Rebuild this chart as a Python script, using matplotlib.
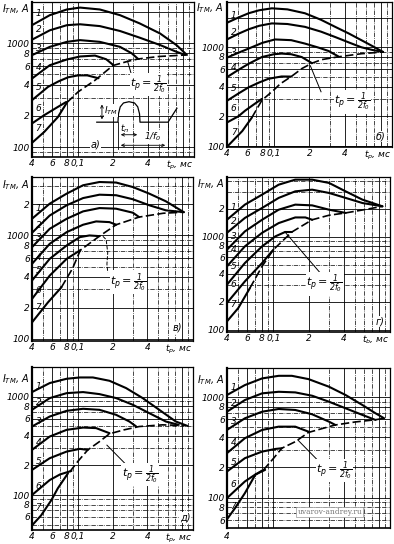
import numpy as np
import matplotlib
matplotlib.use("Agg")
import matplotlib.pyplot as plt

plt.rcParams['font.family'] = ['DejaVu Sans']
plt.rcParams['font.style'] = 'italic'
plt.rcParams['mathtext.fontset'] = 'dejavusans'
plt.rcParams['mathtext.default'] = 'it'

# ---------------- data (t_p in ms, I_TM in A) -------------
# panel a)
a_x = [[0.04, 0.057, 0.08, 0.104, 0.154, 0.23, 0.34, 0.51, 0.71, 0.87],
       [0.04, 0.057, 0.08, 0.104, 0.154, 0.23, 0.34, 0.51, 0.70, 0.84],
       [0.04, 0.057, 0.08, 0.104, 0.154, 0.23, 0.29, 0.33],
       [0.04, 0.057, 0.08, 0.104, 0.14, 0.175, 0.2],
       [0.04, 0.055, 0.068, 0.082, 0.1, 0.12, 0.15],
       [0.04, 0.051, 0.067, 0.079],
       [0.04, 0.051, 0.067, 0.08]]
a_y = [[1490, 1860, 2110, 2200, 2110, 1860, 1550, 1240, 955, 770],
       [1080, 1330, 1490, 1520, 1460, 1310, 1130, 960, 830, 770],
       [767, 922, 1030, 1070, 1030, 922, 800, 705],
       [457, 614, 697, 745, 760, 700, 620],
       [283, 380, 430, 470, 490, 490, 460],
       [169, 203, 244, 272],
       [110, 140, 195, 268]]
a_loc_x = [0.08, 0.1, 0.14, 0.2, 0.27, 0.33, 0.5, 0.85]
a_loc_y = [268, 340, 440, 610, 670, 705, 745, 770]
a_lab_y = [1943, 1363, 895, 588, 377, 237, 152]

# panel б)
b_x = [[0.04, 0.05, 0.061, 0.075, 0.096, 0.13, 0.183, 0.25, 0.33, 0.43, 0.55, 0.68, 0.84],
       [0.04, 0.05, 0.061, 0.075, 0.096, 0.13, 0.183, 0.25, 0.33, 0.43, 0.55, 0.68, 0.84],
       [0.04, 0.05, 0.061, 0.08, 0.102, 0.14, 0.183, 0.24, 0.29, 0.35],
       [0.04, 0.05, 0.061, 0.079, 0.1, 0.116, 0.14, 0.172, 0.21],
       [0.04, 0.05, 0.061, 0.075, 0.09, 0.116, 0.14],
       [0.04, 0.05, 0.057, 0.068, 0.079],
       [0.04, 0.054, 0.065]]
b_y = [[1770, 2000, 2210, 2370, 2480, 2420, 2210, 1900, 1610, 1380, 1180, 1030, 896],
       [1200, 1370, 1520, 1650, 1745, 1720, 1610, 1440, 1270, 1120, 1000, 940, 896],
       [785, 880, 970, 1110, 1200, 1180, 1090, 990, 917, 810],
       [498, 590, 680, 796, 850, 863, 850, 796, 690],
       [287, 340, 393, 440, 480, 506, 505],
       [173, 200, 228, 265, 300],
       [98, 142, 194]]
b_loc_x = [0.065, 0.079, 0.1, 0.113, 0.14, 0.173, 0.21, 0.254, 0.35, 0.55, 0.84]
b_loc_y = [194, 290, 370, 426, 505, 610, 690, 750, 800, 860, 896]
b_lab_y = [2120, 1423, 889, 625, 381, 239, 136]

# panel в)
v_x = [[0.04, 0.057, 0.08, 0.111, 0.154, 0.215, 0.3, 0.416, 0.58, 0.83],
       [0.04, 0.057, 0.08, 0.111, 0.154, 0.215, 0.3, 0.416, 0.58, 0.83],
       [0.04, 0.057, 0.08, 0.111, 0.154, 0.215, 0.3, 0.34],
       [0.04, 0.057, 0.08, 0.111, 0.144, 0.188, 0.215],
       [0.04, 0.057, 0.08, 0.104, 0.126, 0.154],
       [0.04, 0.057, 0.08, 0.105],
       [0.04, 0.055, 0.072]]
v_y = [[1450, 2030, 2540, 3060, 3290, 3250, 2940, 2540, 2140, 1680],
       [1060, 1560, 1960, 2300, 2480, 2450, 2240, 1960, 1750, 1680],
       [770, 1160, 1450, 1710, 1840, 1815, 1660, 1506],
       [531, 830, 1077, 1270, 1367, 1346, 1270],
       [366, 594, 800, 963, 1000, 985],
       [243, 409, 594, 720],
       [144, 225, 315]]
v_loc_x = [0.072, 0.09, 0.105, 0.154, 0.215, 0.34, 0.55, 0.83]
v_loc_y = [315, 480, 720, 985, 1270, 1506, 1640, 1680]
v_lab_y = [1830, 1250, 956, 612, 458, 292, 200]

# panel г)
g_x = [[0.04, 0.057, 0.08, 0.111, 0.154, 0.215, 0.3, 0.416, 0.58, 0.86],
       [0.04, 0.057, 0.08, 0.111, 0.154, 0.215, 0.3, 0.416, 0.58, 0.86],
       [0.04, 0.057, 0.08, 0.111, 0.154, 0.215, 0.3, 0.416],
       [0.04, 0.057, 0.08, 0.111, 0.154, 0.188, 0.215],
       [0.04, 0.057, 0.08, 0.104, 0.126, 0.144],
       [0.04, 0.057, 0.08, 0.1],
       [0.04, 0.05, 0.063]]
g_y = [[1520, 2210, 2830, 3620, 4100, 4100, 3780, 3070, 2500, 2120],
       [1100, 1590, 2035, 2610, 3070, 3200, 2950, 2610, 2300, 2120],
       [725, 1140, 1520, 1950, 2210, 2170, 1950, 1800],
       [480, 787, 1100, 1400, 1610, 1610, 1520],
       [305, 521, 787, 1008, 1123, 1123],
       [194, 331, 521, 725],
       [123, 171, 281]]
g_loc_x = [0.063, 0.08, 0.1, 0.144, 0.215, 0.3, 0.416, 0.6, 0.86]
g_loc_y = [281, 480, 725, 1123, 1520, 1700, 1800, 1950, 2120]
g_lab_y = [2050, 1450, 1000, 725, 476, 305, 186]

# panel д)
d_x = [[0.04, 0.057, 0.08, 0.104, 0.135, 0.188, 0.262, 0.365, 0.508, 0.708, 0.89],
       [0.04, 0.057, 0.08, 0.111, 0.154, 0.215, 0.3, 0.416, 0.58, 0.75],
       [0.04, 0.057, 0.08, 0.111, 0.154, 0.215, 0.28, 0.32],
       [0.04, 0.057, 0.08, 0.111, 0.144, 0.188],
       [0.04, 0.057, 0.08, 0.104, 0.122],
       [0.04, 0.057, 0.07, 0.088],
       [0.04, 0.048, 0.059, 0.067, 0.082]]
d_y = [[1117, 1380, 1527, 1574, 1574, 1456, 1227, 970, 737, 560, 506],
       [737, 970, 1090, 1117, 1065, 970, 829, 682, 560, 518],
       [498, 630, 720, 755, 737, 655, 560, 500],
       [288, 394, 461, 486, 480, 426],
       [180, 237, 277, 295, 288],
       [100, 142, 162, 176],
       [49, 62, 89, 117, 166]]
d_loc_x = [0.085, 0.1, 0.122, 0.154, 0.188, 0.25, 0.34, 0.54, 0.86]
d_loc_y = [172, 220, 288, 350, 420, 460, 498, 518, 510]
d_lab_y = [1265, 868, 556, 339, 217, 121, 74]

# panel е)
e_x = [[0.04, 0.057, 0.08, 0.111, 0.144, 0.2, 0.3, 0.416, 0.58, 0.75, 0.89],
       [0.04, 0.057, 0.08, 0.111, 0.154, 0.215, 0.3, 0.416, 0.58, 0.75],
       [0.04, 0.057, 0.08, 0.111, 0.154, 0.215, 0.3, 0.34],
       [0.04, 0.057, 0.08, 0.111, 0.154, 0.2],
       [0.04, 0.057, 0.08, 0.104, 0.118],
       [0.04, 0.057, 0.07, 0.085],
       [0.04, 0.047, 0.057, 0.07, 0.08]]
e_y = [[1047, 1315, 1531, 1625, 1625, 1507, 1265, 1047, 833, 690, 615],
       [715, 934, 1088, 1128, 1112, 1030, 898, 773, 664, 592],
       [471, 615, 715, 761, 744, 674, 569, 528],
       [277, 390, 471, 508, 508, 453],
       [182, 247, 287, 305, 310],
       [99, 145, 170, 189],
       [61, 79, 111, 169, 186]]
e_loc_x = [0.082, 0.1, 0.118, 0.154, 0.2, 0.3, 0.34, 0.5, 0.75, 0.89]
e_loc_y = [188, 245, 310, 360, 445, 508, 528, 565, 595, 615]
e_lab_y = [1256, 872, 566, 350, 222, 134, 82]

# tick labels
x_ticks = [0.04, 0.06, 0.08, 0.1, 0.2, 0.4]
x_ticklabels = ['4', '6', '8', '0,1', '2', '4']
y_ticks_top = [100, 200, 400, 600, 800, 1000]
y_labels_top = ['100', '2', '4', '6', '8', '1000']
y_ticks_mid = [100, 200, 400, 600, 800, 1000, 2000]
y_labels_mid = ['100', '2', '4', '6', '8', '1000', '2']
y_ticks_low = [60, 80, 100, 200, 400, 600, 800, 1000]
y_labels_low = ['6', '8', '100', '2', '4', '6', '8', '1000']

# inset sketch of the current pulse (axes fractions of panel a)
pulse_fx = [0.40, 0.531, 0.534, 0.545, 0.565, 0.599, 0.633, 0.653, 0.664, 0.667, 0.84, 0.895]
pulse_fy = [0.226, 0.226, 0.28, 0.325, 0.35, 0.358, 0.35, 0.325, 0.28, 0.226, 0.226, 0.316]

fig = plt.figure(figsize=(3.94, 5.44), dpi=100)

panels = [
    # rect, ylim, data x, data y, locus x, locus y, label y, yticks, ylabels, letter, xunit, letter pos, tp text pos, leader
    ([0.0812, 0.711, 0.411, 0.285], (80, 2480), a_x, a_y, a_loc_x, a_loc_y, a_lab_y,
     y_ticks_top, y_labels_top, 'а)', 'p', (0.39, 0.08), (0.72, 0.47), [(0.59, 0.62), (0.615, 0.53)]),
    ([0.576, 0.730, 0.419, 0.2665], (98, 2880), b_x, b_y, b_loc_x, b_loc_y, b_lab_y,
     y_ticks_top, y_labels_top, 'б)', 'p', (0.93, 0.07), (0.76, 0.31), [(0.505, 0.56), (0.57, 0.38)]),
    ([0.0812, 0.373, 0.409, 0.301], (95, 3650), v_x, v_y, v_loc_x, v_loc_y, v_lab_y,
     y_ticks_mid, y_labels_mid, 'в)', 'p', (0.9, 0.08), (0.6, 0.36), None),
    ([0.576, 0.390, 0.414, 0.285], (95, 4400), g_x, g_y, g_loc_x, g_loc_y, g_lab_y,
     y_ticks_mid, y_labels_mid, 'г)', 'b', (0.94, 0.065), (0.6, 0.31), [(0.355, 0.645), (0.58, 0.37)]),
    ([0.0812, 0.0257, 0.409, 0.300], (44, 2020), d_x, d_y, d_loc_x, d_loc_y, d_lab_y,
     y_ticks_low, y_labels_low, 'д)', 'p', (0.95, 0.075), (0.67, 0.34), [(0.465, 0.52), (0.575, 0.41)]),
    ([0.576, 0.0294, 0.414, 0.294], (50, 1940), e_x, e_y, e_loc_x, e_loc_y, e_lab_y,
     y_ticks_low, y_labels_low, None, None, None, (0.66, 0.36), [(0.435, 0.55), (0.56, 0.42)]),
]

grid_solid_x = [0.06, 0.08, 0.1, 0.2, 0.4, 0.8]
grid_dash_x = [0.05, 0.07, 0.09, 0.3, 0.5, 0.6, 0.7, 0.9]
grid_solid_y = [100, 200, 400, 600, 800, 1000, 2000]
grid_dash_y = [50, 60, 70, 80, 90, 300, 500, 700, 900, 3000, 4000]

for k, (rect, ylim, xs, ys, lx, ly, laby, yt, yl, letter, unit, lpos, tppos, leader) in enumerate(panels):
    ax = fig.add_axes(rect)
    ax.set_xscale('log')
    ax.set_yscale('log')
    ax.set_xlim(0.04, 1.0)
    ax.set_ylim(*ylim)

    for gx in grid_solid_x:
        ax.axvline(gx, color='k', lw=0.6, zorder=1)
    for gx in grid_dash_x:
        ax.axvline(gx, color='k', lw=0.5, ls='-.', zorder=1)
    for gy in grid_solid_y:
        if ylim[0] < gy < ylim[1]:
            ax.axhline(gy, color='k', lw=0.6, zorder=1)
    for gy in grid_dash_y:
        if ylim[0] < gy < ylim[1]:
            ax.axhline(gy, color='k', lw=0.5, ls='-.', zorder=1)

    for x, y in zip(xs, ys):
        ax.plot(x, y, color='k', lw=1.5, zorder=3, solid_capstyle='round')
    ax.plot(lx, ly, color='k', lw=1.2, ls=(0, (5, 2)), zorder=3)

    for i, yy in enumerate(laby):
        ax.text(0.0455, yy, str(i + 1), fontsize=6.5, ha='center', va='center', zorder=4)

    # axes look
    for s in ax.spines.values():
        s.set_linewidth(0.9)
    ax.spines['left'].set_linewidth(1.6)
    ax.spines['bottom'].set_linewidth(1.2)
    ax.minorticks_off()
    ax.tick_params(length=0, pad=1.5, labelsize=6.5)
    ax.set_yticks(yt)
    ax.set_yticklabels(yl)
    if letter is not None:
        ax.set_xticks(x_ticks + [0.75])
        ax.set_xticklabels(x_ticklabels + ['$t_\\mathrm{%s}$, мс' % unit])
    else:
        ax.set_xticks([0.04])
        ax.set_xticklabels(['4'])
        ax.tick_params(axis='x', pad=3)
    ax.minorticks_off()
    for t in ax.get_xticklabels() + ax.get_yticklabels():
        t.set_fontstyle('italic')

    ax.text(-0.185, 0.955 if k < 4 else 0.925, '$I_{\\mathrm{ТМ}}$, A', transform=ax.transAxes,
            fontsize=7, ha='left', va='center')

    if letter is not None:
        ax.text(lpos[0], lpos[1], letter, transform=ax.transAxes, fontsize=7,
                ha='center', va='center', bbox=dict(fc='white', ec='none', pad=0.5), zorder=5)

    ax.text(tppos[0], tppos[1], '$t_\\mathrm{p}=\\frac{1}{2f_0}$', transform=ax.transAxes,
            fontsize=8, ha='center', va='center', zorder=5,
            bbox=dict(fc='white', ec='none', pad=0.3))
    if leader is not None:
        ax.plot([leader[0][0], leader[1][0]], [leader[0][1], leader[1][1]],
                transform=ax.transAxes, color='k', lw=0.7, zorder=4)
    else:
        ax.plot([0.44, 0.46, 0.47, 0.465, 0.47], [0.64, 0.62, 0.54, 0.47, 0.42],
                transform=ax.transAxes, color='k', lw=0.7, ls=(0, (4, 1.5)), zorder=4)

    if k == 0:
        ax.plot(pulse_fx, pulse_fy, transform=ax.transAxes, color='k', lw=0.9, zorder=4)
        ax.annotate('', xy=(0.432, 0.358), xytext=(0.432, 0.226), xycoords='axes fraction',
                    arrowprops=dict(arrowstyle='<->', lw=0.6, mutation_scale=5))
        ax.text(0.445, 0.30, '$I_{\\mathrm{ТМ}}$', transform=ax.transAxes, fontsize=6.5,
                va='center', ha='left', zorder=5, bbox=dict(fc='white', ec='none', pad=0.2))
        ax.plot([0.531, 0.531], [0.226, 0.055], transform=ax.transAxes, color='k', lw=0.6, zorder=4)
        ax.plot([0.84, 0.84], [0.226, 0.055], transform=ax.transAxes, color='k', lw=0.6, zorder=4)
        ax.annotate('', xy=(0.531, 0.145), xytext=(0.667, 0.145), xycoords='axes fraction',
                    arrowprops=dict(arrowstyle='<->', lw=0.6, mutation_scale=5))
        ax.text(0.575, 0.185, '$t_\\mathrm{п}$', transform=ax.transAxes, fontsize=6.5,
                ha='center', va='center', zorder=5)
        ax.annotate('', xy=(0.531, 0.077), xytext=(0.84, 0.077), xycoords='axes fraction',
                    arrowprops=dict(arrowstyle='<->', lw=0.6, mutation_scale=5))
        ax.text(0.745, 0.13, '$1/f_0$', transform=ax.transAxes, fontsize=6.5,
                ha='center', va='center', zorder=5, bbox=dict(fc='white', ec='none', pad=0.2))
    if k == 5:
        ax.text(0.63, 0.10, 'uvarov-andrey.ru', transform=ax.transAxes, fontsize=5.5,
                fontstyle='normal', family='DejaVu Serif', color='#777777', ha='center',
                va='center', zorder=6,
                bbox=dict(fc='white', ec='#999999', lw=0.5, pad=1.0))

fig.savefig('out.png', dpi=100)
